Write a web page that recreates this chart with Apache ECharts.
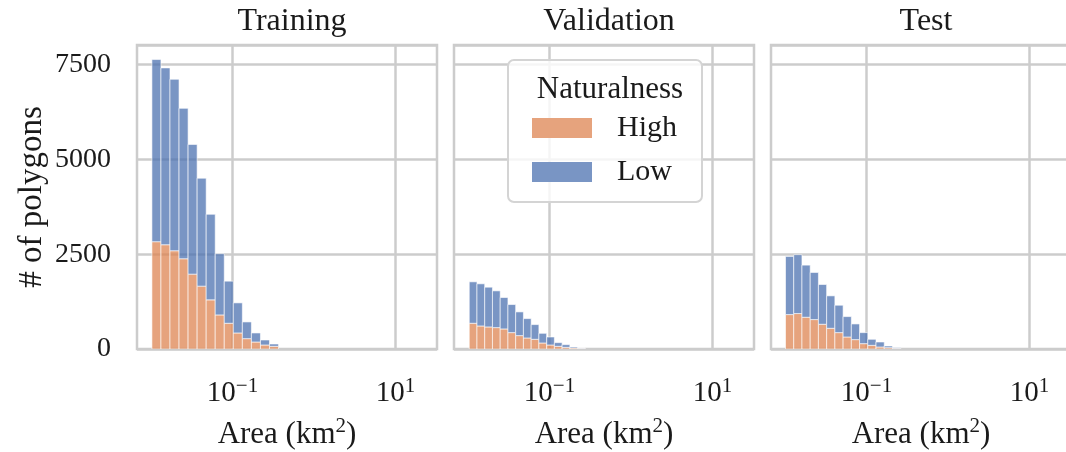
<!DOCTYPE html>
<html>
<head>
<meta charset="utf-8">
<script src="https://cdn.jsdelivr.net/npm/echarts@6/dist/echarts.min.js"></script>
<style>
  html, body { margin: 0; padding: 0; background: #fff; }
  #chart { width: 1066px; height: 452px; }
</style>
</head>
<body>
<div id="chart"></div>
<script>
// ---- data ----
const panelTitles = ['Training', 'Validation', 'Test'];
const hueNames = ['High', 'Low'];

// histogram bins per panel: log10 of first bin edge and bin width in decades
const binStartExp = [-1.989, -1.985, -1.994];
const binWidthExp = [0.111, 0.095, 0.101];

// counts per bin (High stacked at the bottom, Low on top)
const trainHigh = [2831, 2751, 2592, 2381, 1975, 1658, 1296, 899, 679, 423, 273, 185, 106, 71];
const trainLow  = [4805, 4665, 4524, 3968, 3422, 2848, 2258, 1614, 1111, 794, 441, 238, 132, 61];
const valHigh   = [679, 608, 582, 564, 529, 432, 353, 291, 256, 159, 106, 71, 44, 26, 18];
const valLow    = [1093, 1112, 1049, 970, 829, 741, 626, 511, 388, 255, 211, 97, 71, 27, 8];
const testHigh  = [908, 935, 838, 776, 653, 547, 432, 317, 247, 141, 97, 53, 35, 18];
const testLow   = [1535, 1552, 1375, 1243, 1049, 855, 723, 538, 414, 291, 159, 132, 44, 17];

const yTicks = [0, 2500, 5000, 7500];
const xTickValues = [0.1, 10];
const xMinExp = -2.172, xMaxExp = 1.51;
const yMax = 8020;

const panelData = [
  [trainHigh, trainLow],
  [valHigh, valLow],
  [testHigh, testLow]
];

// ---- styling ----
const FONT = 'Liberation Serif';
const TEXT = '#1a1a1a';
const GRIDC = '#cccccc';
const hueColors = ['#DD8452', '#4C72B0'];
const hueLegendColors = ['#E6A37D', '#7995C4'];
const gridLefts = [137, 454, 771];

const chart = echarts.init(document.getElementById('chart'), null, { renderer: 'canvas' });

function renderBar(params, api) {
  const p0 = api.coord([api.value(0), api.value(2)]);
  const p1 = api.coord([api.value(1), api.value(3)]);
  return {
    type: 'rect',
    shape: { x: p0[0], y: p1[1], width: p1[0] - p0[0], height: p0[1] - p1[1] },
    style: api.style()
  };
}

const supRich = {
  b: { fontFamily: FONT, fontSize: 29, color: TEXT, lineHeight: 34 },
  s: { fontFamily: FONT, fontSize: 21, color: TEXT, lineHeight: 21, verticalAlign: 'top' }
};
const nameRich = {
  b: { fontFamily: FONT, fontSize: 31, color: TEXT, lineHeight: 38 },
  s: { fontFamily: FONT, fontSize: 21, color: TEXT, lineHeight: 22, verticalAlign: 'top' }
};

const grids = [], xAxes = [], yAxes = [], series = [], titles = [];
panelTitles.forEach((name, p) => {
  grids.push({
    left: gridLefts[p], top: 45, width: 300, height: 304,
    outerBoundsMode: 'none',
    show: true, borderColor: GRIDC, borderWidth: 2.5, backgroundColor: 'transparent'
  });
  xAxes.push({
    type: 'log', logBase: 10, gridIndex: p,
    min: Math.pow(10, xMinExp), max: Math.pow(10, xMaxExp),
    axisLine: { show: false },
    axisTick: { show: false, customValues: xTickValues },
    splitLine: { show: true, lineStyle: { color: GRIDC, width: 2.5 } },
    axisLabel: {
      customValues: xTickValues, margin: 27,
      formatter: v => '{b|10}{s|' + String(Math.round(Math.log10(v))).replace('-', '\u2212') + '}',
      rich: supRich
    },
    name: '{b|Area (km}{s|2}{b|)}',
    nameLocation: 'middle', nameGap: 67,
    nameTextStyle: { rich: nameRich }
  });
  yAxes.push({
    type: 'value', gridIndex: p, min: 0, max: yMax, interval: 2500,
    axisLine: { show: false }, axisTick: { show: false },
    splitLine: { show: true, lineStyle: { color: GRIDC, width: 2.5 } },
    axisLabel: {
      show: p === 0, margin: 26,
      fontFamily: FONT, fontSize: 28, color: TEXT,
      customValues: yTicks,
      formatter: v => String(v)
    },
    name: p === 0 ? '# of polygons' : '',
    nameLocation: 'middle', nameGap: 88,
    nameTextStyle: { fontFamily: FONT, fontSize: 33, color: TEXT }
  });
  titles.push({
    text: name, left: gridLefts[p] + 150, top: 1, textAlign: 'center',
    textStyle: { fontFamily: FONT, fontSize: 32, fontWeight: 'normal', color: TEXT }
  });

  const [high, low] = panelData[p];
  const s0 = binStartExp[p], w = binWidthExp[p];
  [high, low].forEach((vals, h) => {
    const data = vals.map((v, i) => {
      const base = h === 0 ? 0 : high[i];
      return [Math.pow(10, s0 + i * w), Math.pow(10, s0 + (i + 1) * w), base, base + v];
    });
    series.push({
      type: 'custom', name: hueNames[h],
      xAxisIndex: p, yAxisIndex: p,
      renderItem: renderBar,
      encode: { x: [0, 1], y: [2, 3] },
      clip: true,
      itemStyle: {
        color: hueColors[h], opacity: 0.75,
        borderColor: 'rgba(255,255,255,0.8)', borderWidth: 1
      },
      data: data
    });
  });
});

// legend title
titles.push({
  text: 'Naturalness', left: 605, top: 69, textAlign: 'center', z: 10,
  textStyle: { fontFamily: FONT, fontSize: 31, fontWeight: 'normal', color: TEXT }
});

const option = {
  backgroundColor: '#ffffff',
  animation: false,
  title: titles,
  grid: grids,
  xAxis: xAxes,
  yAxis: yAxes,
  legend: {
    orient: 'vertical', left: 508, top: 60,
    padding: [53, 25, 15, 24],
    itemWidth: 60, itemHeight: 20, itemGap: 14,
    backgroundColor: 'rgba(255,255,255,0.8)',
    borderColor: '#d4d4d4', borderWidth: 2, borderRadius: 6,
    icon: 'rect',
    data: hueNames.map((n, h) => ({ name: n, itemStyle: { color: hueLegendColors[h], opacity: 1, borderWidth: 0 } })),
    textStyle: { fontFamily: FONT, fontSize: 30, color: TEXT, lineHeight: 30, padding: [0, 0, 0, 20] },
    selectedMode: false
  },
  series: series
};

chart.setOption(option);
window.addEventListener('resize', () => chart.resize());
</script>
</body>
</html>
